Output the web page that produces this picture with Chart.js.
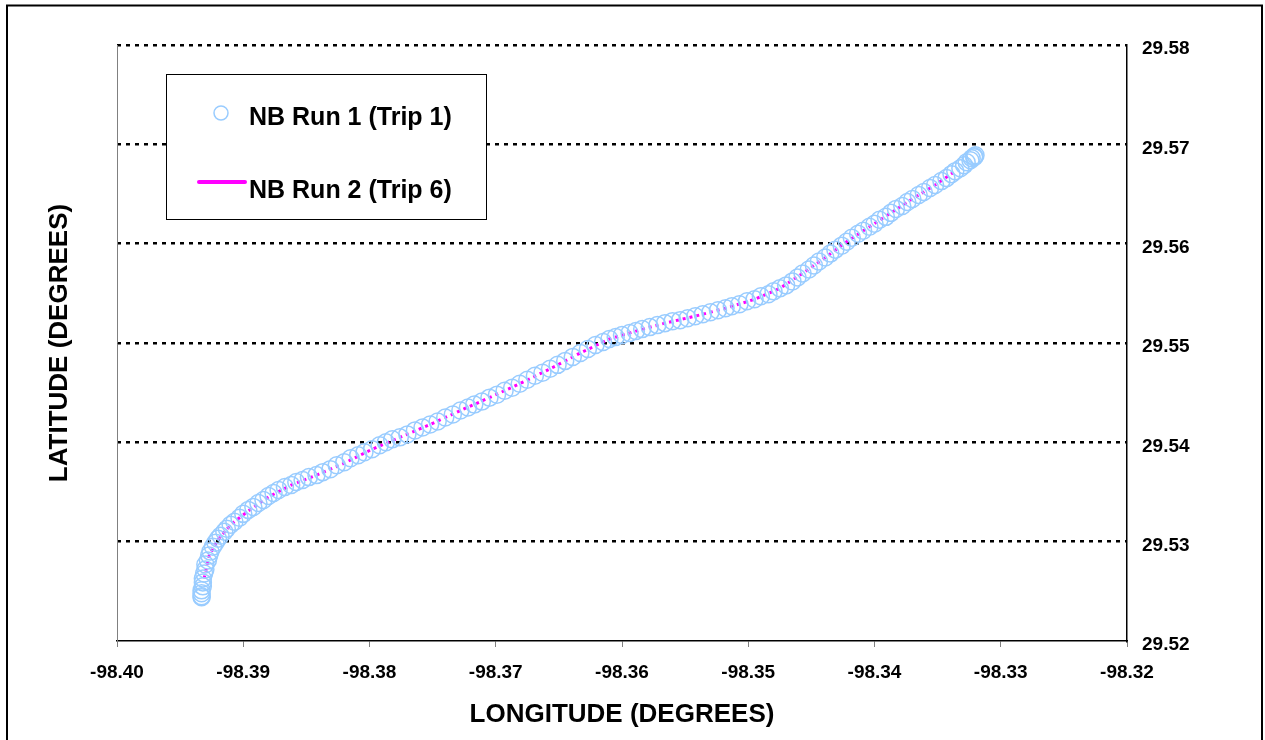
<!DOCTYPE html>
<html>
<head>
<meta charset="utf-8">
<script src="https://cdn.jsdelivr.net/npm/chart.js@4"></script>
<style>
  html,body{margin:0;padding:0;background:#fff}
  canvas{display:block}
</style>
</head>
<body>
<canvas id="c" width="1265" height="740"></canvas>
<script>
'use strict';
// ══ GPS track — NB runs, lon/lat ══
const xTicks=[-98.40,-98.39,-98.38,-98.37,-98.36,-98.35,-98.34,-98.33,-98.32];
const yTicks=[29.52,29.53,29.54,29.55,29.56,29.57,29.58];
const seriesNames=['NB Run 1 (Trip 1)','NB Run 2 (Trip 6)'];

// Run 1 (circles)
const lon1=[-98.3933,-98.3933,-98.3933,-98.3933,-98.3932,-98.3932,-98.3932,-98.3931,-98.3930,-98.3930,
  -98.3928,-98.3927,-98.3926,-98.3924,-98.3922,-98.3920,-98.3918,-98.3915,-98.3913,-98.3910,
  -98.3907,-98.3903,-98.3900,-98.3896,-98.3892,-98.3888,-98.3884,-98.3880,-98.3876,-98.3872,
  -98.3867,-98.3862,-98.3858,-98.3853,-98.3848,-98.3842,-98.3837,-98.3831,-98.3826,-98.3820,
  -98.3815,-98.3809,-98.3804,-98.3798,-98.3792,-98.3787,-98.3782,-98.3776,-98.3770,-98.3764,
  -98.3758,-98.3752,-98.3746,-98.3740,-98.3734,-98.3728,-98.3722,-98.3717,-98.3711,-98.3705,
  -98.3699,-98.3693,-98.3687,-98.3681,-98.3675,-98.3669,-98.3663,-98.3657,-98.3651,-98.3645,
  -98.3639,-98.3633,-98.3627,-98.3621,-98.3615,-98.3610,-98.3605,-98.3600,-98.3594,-98.3589,
  -98.3584,-98.3578,-98.3572,-98.3566,-98.3560,-98.3554,-98.3548,-98.3542,-98.3536,-98.3530,
  -98.3524,-98.3518,-98.3513,-98.3507,-98.3501,-98.3495,-98.3490,-98.3484,-98.3480,-98.3475,
  -98.3470,-98.3465,-98.3461,-98.3457,-98.3452,-98.3448,-98.3444,-98.3439,-98.3435,-98.3431,
  -98.3426,-98.3422,-98.3418,-98.3413,-98.3409,-98.3404,-98.3400,-98.3396,-98.3391,-98.3387,
  -98.3383,-98.3378,-98.3374,-98.3370,-98.3365,-98.3361,-98.3356,-98.3352,-98.3347,-98.3343,
  -98.3339,-98.3336,-98.3332,-98.3329,-98.3327,-98.3324,-98.3323,-98.3321,-98.3321,-98.3320];
const lat1=[29.5244,29.5245,29.5248,29.5251,29.5255,29.5259,29.5263,29.5268,29.5272,29.5277,
  29.5281,29.5286,29.5290,29.5295,29.5299,29.5303,29.5306,29.5310,29.5313,29.5317,
  29.5320,29.5324,29.5328,29.5332,29.5335,29.5339,29.5342,29.5346,29.5349,29.5352,
  29.5355,29.5357,29.5360,29.5362,29.5365,29.5367,29.5370,29.5373,29.5377,29.5380,
  29.5384,29.5387,29.5390,29.5393,29.5397,29.5400,29.5403,29.5405,29.5408,29.5412,
  29.5415,29.5418,29.5421,29.5425,29.5428,29.5432,29.5435,29.5438,29.5441,29.5445,
  29.5448,29.5452,29.5455,29.5459,29.5463,29.5467,29.5470,29.5474,29.5478,29.5482,
  29.5486,29.5490,29.5494,29.5498,29.5501,29.5504,29.5506,29.5508,29.5510,29.5512,
  29.5514,29.5516,29.5518,29.5520,29.5522,29.5523,29.5525,29.5527,29.5529,29.5531,
  29.5533,29.5535,29.5537,29.5539,29.5542,29.5544,29.5547,29.5549,29.5552,29.5555,
  29.5558,29.5562,29.5566,29.5570,29.5574,29.5578,29.5582,29.5586,29.5590,29.5594,
  29.5598,29.5602,29.5606,29.5610,29.5613,29.5617,29.5620,29.5624,29.5627,29.5631,
  29.5635,29.5638,29.5642,29.5645,29.5649,29.5652,29.5656,29.5659,29.5663,29.5666,
  29.5670,29.5673,29.5676,29.5679,29.5682,29.5684,29.5686,29.5687,29.5688,29.5689];

// Run 2 (line)
const lon2=[-98.3931,-98.3927,-98.3920,-98.3910,-98.3896,-98.3880,-98.3862,-98.3842,-98.3820,-98.3798,
  -98.3776,-98.3752,-98.3728,-98.3705,-98.3681,-98.3657,-98.3633,-98.3610,-98.3589,-98.3566,
  -98.3542,-98.3518,-98.3495,-98.3475,-98.3457,-98.3439,-98.3422,-98.3404,-98.3387,-98.3370,
  -98.3352,-98.3336];
const lat2=[29.5263,29.5286,29.5302,29.5317,29.5331,29.5345,29.5357,29.5367,29.5379,29.5393,
  29.5405,29.5418,29.5432,29.5445,29.5459,29.5474,29.5490,29.5504,29.5512,29.5520,
  29.5527,29.5535,29.5544,29.5555,29.5570,29.5586,29.5602,29.5617,29.5631,29.5645,
  29.5659,29.5673];

const FONT="'Liberation Sans', Arial, sans-serif";
const pts=(xs,ys)=>xs.map((x,i)=>({x,y:ys[i]}));

// frame + legend box
const decor={
  id:'decor',
  beforeDraw(c){
    const g=c.ctx;g.save();g.strokeStyle='#000';g.lineWidth=2;
    g.beginPath();g.moveTo(7,748);g.lineTo(7,5.5);g.lineTo(1262,5.5);g.lineTo(1262,748);g.stroke();
    g.restore();
  },
  afterDraw(c){
    const g=c.ctx,ds=c.data.datasets;g.save();
    g.fillStyle='#fff';g.fillRect(166,74,320,145);
    g.strokeStyle='#000';g.lineWidth=1;g.strokeRect(166.5,74.5,320,145);
    g.beginPath();g.arc(221,113,7,0,Math.PI*2);g.strokeStyle=ds[0].pointBorderColor;g.lineWidth=1.5;g.stroke();
    g.beginPath();g.moveTo(199,182);g.lineTo(245,182);g.strokeStyle=ds[1].borderColor;g.lineWidth=4;g.lineCap='round';g.stroke();
    g.fillStyle='#000';g.font='bold 25px '+FONT;g.textBaseline='alphabetic';
    g.fillText(ds[0].label,249,125);g.fillText(ds[1].label,249,198);
    g.restore();
  }
};

new Chart(document.getElementById('c'),{
  type:'scatter',
  data:{datasets:[
    {label:seriesNames[0],data:pts(lon1,lat1),showLine:false,pointRadius:8.5,pointBorderWidth:1.5,
     pointBorderColor:'#99CCFF',pointBackgroundColor:'rgba(0,0,0,0)'},
    {label:seriesNames[1],data:pts(lon2,lat2),showLine:true,pointRadius:0,borderColor:'#FF00FF',borderWidth:3,borderDash:[3,4],tension:0}
  ]},
  options:{
    responsive:false,animation:false,events:[],
    layout:{padding:{top:45,left:0,right:0,bottom:0}},
    plugins:{legend:{display:false},tooltip:{enabled:false}},
    scales:{
      x:{type:'linear',position:'bottom',min:xTicks[0],max:xTicks[xTicks.length-1],
        afterBuildTicks:s=>{s.ticks=xTicks.map(v=>({value:v}))},
        afterFit:s=>{s.height=99},
        grid:{drawOnChartArea:false,color:'#808080',tickLength:6},
        border:{color:'#000',width:1.5},
        ticks:{padding:14,color:'#000',font:{family:FONT,size:19,weight:'bold'},callback:v=>v.toFixed(2),maxRotation:0,autoSkip:false},
        title:{display:true,text:'LONGITUDE (DEGREES)',color:'#000',font:{family:FONT,size:26,weight:'bold'},padding:{top:0,bottom:10}}
      },
      y:{type:'linear',position:'right',min:yTicks[0],max:yTicks[yTicks.length-1],
        afterBuildTicks:s=>{s.ticks=yTicks.map(v=>({value:v}))},
        afterFit:s=>{s.width=138},
        grid:{drawTicks:false,lineWidth:2.5,color:c=>Math.abs(c.tick.value-yTicks[0])<1e-6?'rgba(0,0,0,0)':'#000'},
        border:{color:'#000',width:1.5,dash:[4,5]},
        ticks:{padding:15,labelOffset:4,color:'#000',font:{family:FONT,size:19,weight:'bold'},callback:v=>v.toFixed(2),autoSkip:false}
      },
      yl:{type:'linear',position:'left',min:yTicks[0],max:yTicks[yTicks.length-1],
        afterFit:s=>{s.width=117},
        grid:{display:false,drawTicks:false},
        border:{color:'#808080',width:1},
        ticks:{display:false},
        title:{display:true,text:'LATITUDE (DEGREES)',color:'#000',font:{family:FONT,size:26,weight:'bold'},padding:{top:44,bottom:0}}
      }
    }
  },
  plugins:[decor]
});
</script>
</body>
</html>
